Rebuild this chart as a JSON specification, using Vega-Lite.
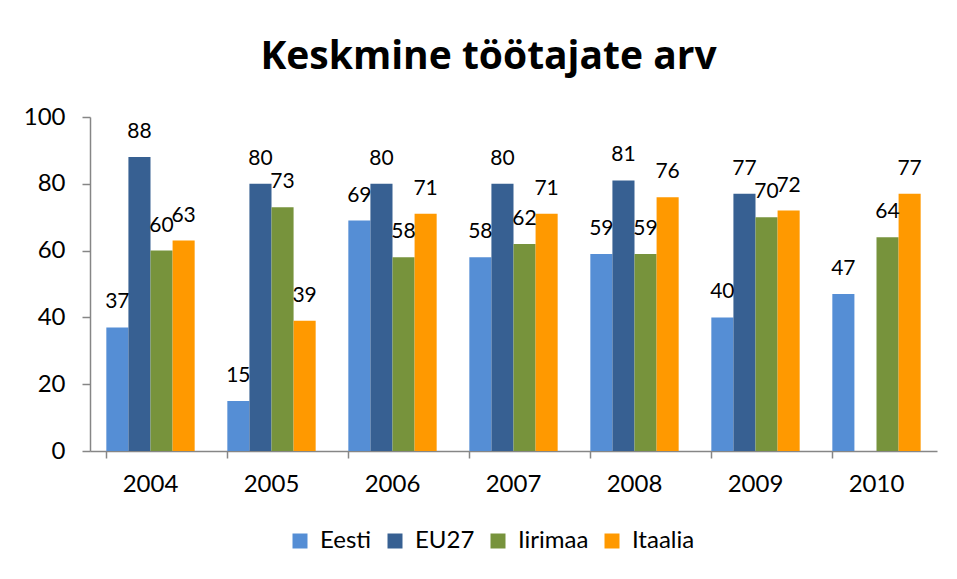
{
  "$schema": "https://vega.github.io/schema/vega-lite/v6.json",
  "width": 847,
  "height": 334,
  "autosize": "none",
  "padding": {"left": 90, "top": 117, "right": 20, "bottom": 128},
  "background": "white",
  "title": {
    "text": "Keskmine töötajate arv",
    "font": "Open Sans",
    "fontSize": 39,
    "fontWeight": "bold",
    "color": "#000000",
    "anchor": "middle",
    "dx": -25,
    "offset": 28
  },
  "data": {
    "values": [
      {"year": "2004", "series": "Eesti", "value": 37},
      {"year": "2004", "series": "EU27", "value": 88},
      {"year": "2004", "series": "Iirimaa", "value": 60},
      {"year": "2004", "series": "Itaalia", "value": 63},
      {"year": "2005", "series": "Eesti", "value": 15},
      {"year": "2005", "series": "EU27", "value": 80},
      {"year": "2005", "series": "Iirimaa", "value": 73},
      {"year": "2005", "series": "Itaalia", "value": 39},
      {"year": "2006", "series": "Eesti", "value": 69},
      {"year": "2006", "series": "EU27", "value": 80},
      {"year": "2006", "series": "Iirimaa", "value": 58},
      {"year": "2006", "series": "Itaalia", "value": 71},
      {"year": "2007", "series": "Eesti", "value": 58},
      {"year": "2007", "series": "EU27", "value": 80},
      {"year": "2007", "series": "Iirimaa", "value": 62},
      {"year": "2007", "series": "Itaalia", "value": 71},
      {"year": "2008", "series": "Eesti", "value": 59},
      {"year": "2008", "series": "EU27", "value": 81},
      {"year": "2008", "series": "Iirimaa", "value": 59},
      {"year": "2008", "series": "Itaalia", "value": 76},
      {"year": "2009", "series": "Eesti", "value": 40},
      {"year": "2009", "series": "EU27", "value": 77},
      {"year": "2009", "series": "Iirimaa", "value": 70},
      {"year": "2009", "series": "Itaalia", "value": 72},
      {"year": "2010", "series": "Eesti", "value": 47},
      {"year": "2010", "series": "Iirimaa", "value": 64},
      {"year": "2010", "series": "Itaalia", "value": 77}
    ]
  },
  "encoding": {
    "x": {
      "field": "year",
      "type": "nominal",
      "scale": {"paddingInner": 0.27, "paddingOuter": 0.135},
      "axis": {
        "title": null,
        "labelAngle": 0,
        "bandPosition": 0,
        "labelFont": "Lato",
        "labelFontSize": 24,
        "labelColor": "#000000",
        "labelPadding": 14,
        "tickSize": 7,
        "tickColor": "#868686",
        "domainColor": "#868686",
        "domainWidth": 1.5,
        "tickWidth": 1.5
      }
    },
    "xOffset": {
      "field": "series",
      "type": "nominal",
      "sort": ["Eesti", "EU27", "Iirimaa", "Itaalia"],
      "scale": {"paddingInner": 0, "paddingOuter": 0}
    },
    "y": {
      "field": "value",
      "type": "quantitative",
      "scale": {"domain": [0, 100], "nice": false},
      "axis": {
        "title": null,
        "values": [0, 20, 40, 60, 80, 100],
        "grid": false,
        "labelFont": "Lato",
        "labelFontSize": 24,
        "labelColor": "#000000",
        "labelPadding": 17,
        "tickSize": 8,
        "tickColor": "#868686",
        "domainColor": "#868686",
        "domainWidth": 1.5,
        "tickWidth": 1.5
      }
    }
  },
  "layer": [
    {
      "mark": {"type": "bar"},
      "encoding": {
        "color": {
          "field": "series",
          "type": "nominal",
          "scale": {
            "domain": ["Eesti", "EU27", "Iirimaa", "Itaalia"],
            "range": ["#558ED5", "#376092", "#77933C", "#FF9900"]
          },
          "legend": {
            "title": null,
            "orient": "none",
            "direction": "horizontal",
            "legendX": 198,
            "legendY": 412,
            "symbolType": "square",
            "symbolSize": 225,
            "symbolStrokeWidth": 0,
            "labelFont": "Lato",
            "labelFontSize": 24,
            "labelColor": "#000000",
            "labelOffset": 8,
            "columnPadding": 11
          }
        }
      }
    },
    {
      "mark": {"type": "text", "font": "Lato", "fontSize": 21, "baseline": "alphabetic", "dy": -19, "color": "#000000"},
      "encoding": {
        "text": {"field": "value", "type": "quantitative"}
      }
    }
  ],
  "config": {
    "view": {"stroke": null}
  }
}
